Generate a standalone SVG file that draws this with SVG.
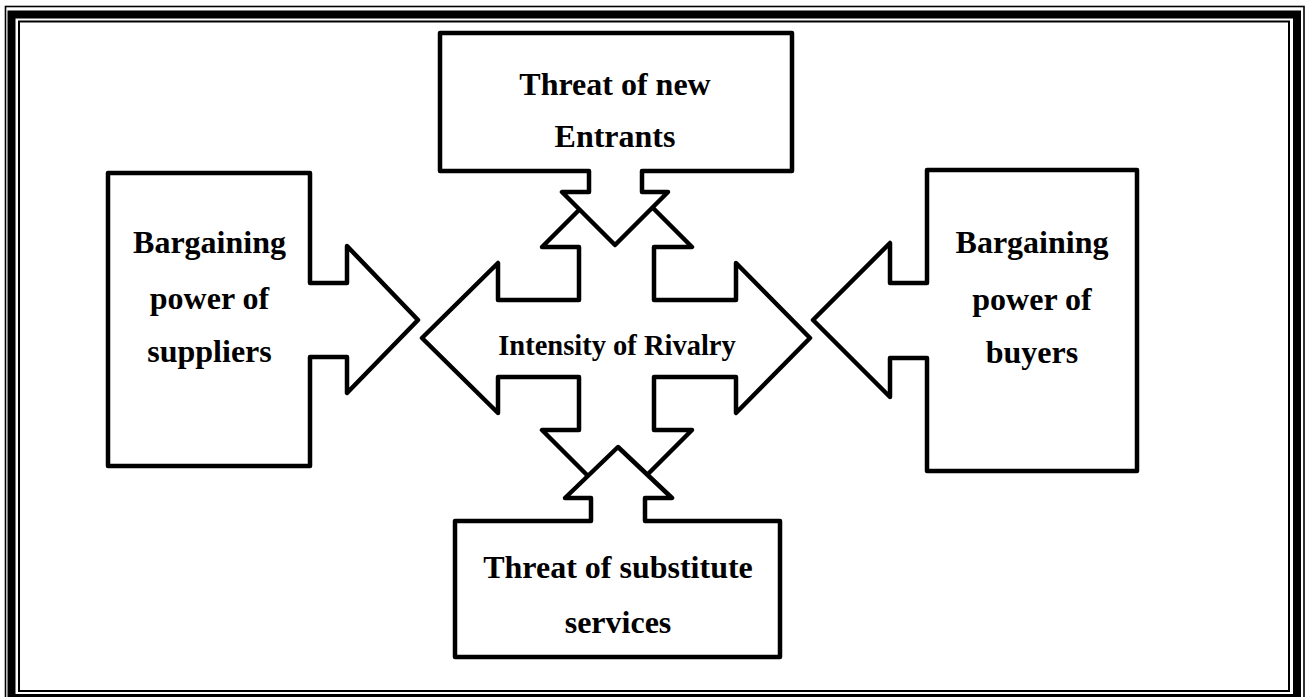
<svg xmlns="http://www.w3.org/2000/svg" width="1306" height="697" viewBox="0 0 1306 697">
<style>
.shape{fill:#fff;stroke:#000;stroke-width:4.5;stroke-linejoin:round}
.t{font-family:"Liberation Serif","Times New Roman",serif;font-weight:bold;font-size:32px;fill:#000;text-anchor:middle}
.c{font-size:28.5px}
</style>
<rect width="1306" height="697" fill="#fff"/>
<g id="frame" fill="none" stroke="#000">
<rect x="5.5" y="6.5" width="1298.5" height="696" stroke-width="1.6"/>
<rect x="11.5" y="14.5" width="1285.5" height="683.5" stroke-width="8"/>
<rect x="19" y="21.5" width="1270" height="669.5" stroke-width="2"/>
</g>
<g id="connectors">
<polygon id="rivalry-cross" class="shape" points="422,338 498,263 498,300 579,300 579,247 542,247 617,172 692,247 654,247 654,300 736,300 736,263 810,338 736,413 736,377 654,377 654,430 692,430 617,505 542,430 579,430 579,377 498,377 498,413"/>
</g>
<g id="node-rivalry">
<text class="t c" x="617" y="355">Intensity of Rivalry</text>
</g>
<g id="node-entrants">
<polygon class="shape" points="440,33 792,33 792,171 642,171 642,192 668,192 615,245 562,192 589,192 589,171 440,171"/>
<text class="t" x="615" y="95">Threat of new</text>
<text class="t" x="615" y="147">Entrants</text>
</g>
<g id="node-suppliers">
<polygon class="shape" points="108,173 310,173 310,283 347,283 347,246 418,320 347,393 347,357 310,357 310,466 108,466"/>
<text class="t" x="209.5" y="253">Bargaining</text>
<text class="t" x="209.5" y="309">power of</text>
<text class="t" x="209.5" y="362">suppliers</text>
</g>
<g id="node-buyers">
<polygon class="shape" points="927,170 1137,170 1137,471 927,471 927,358 890,358 890,397 813,320 890,243 890,283 927,283"/>
<text class="t" x="1032" y="253">Bargaining</text>
<text class="t" x="1032" y="310">power of</text>
<text class="t" x="1032" y="363">buyers</text>
</g>
<g id="node-substitutes">
<polygon class="shape" points="455,521 591,521 591,498 565,498 618,447 672,498 645,498 645,521 780,521 780,657 455,657"/>
<text class="t" x="618" y="578">Threat of substitute</text>
<text class="t" x="618" y="633">services</text>
</g>
</svg>
